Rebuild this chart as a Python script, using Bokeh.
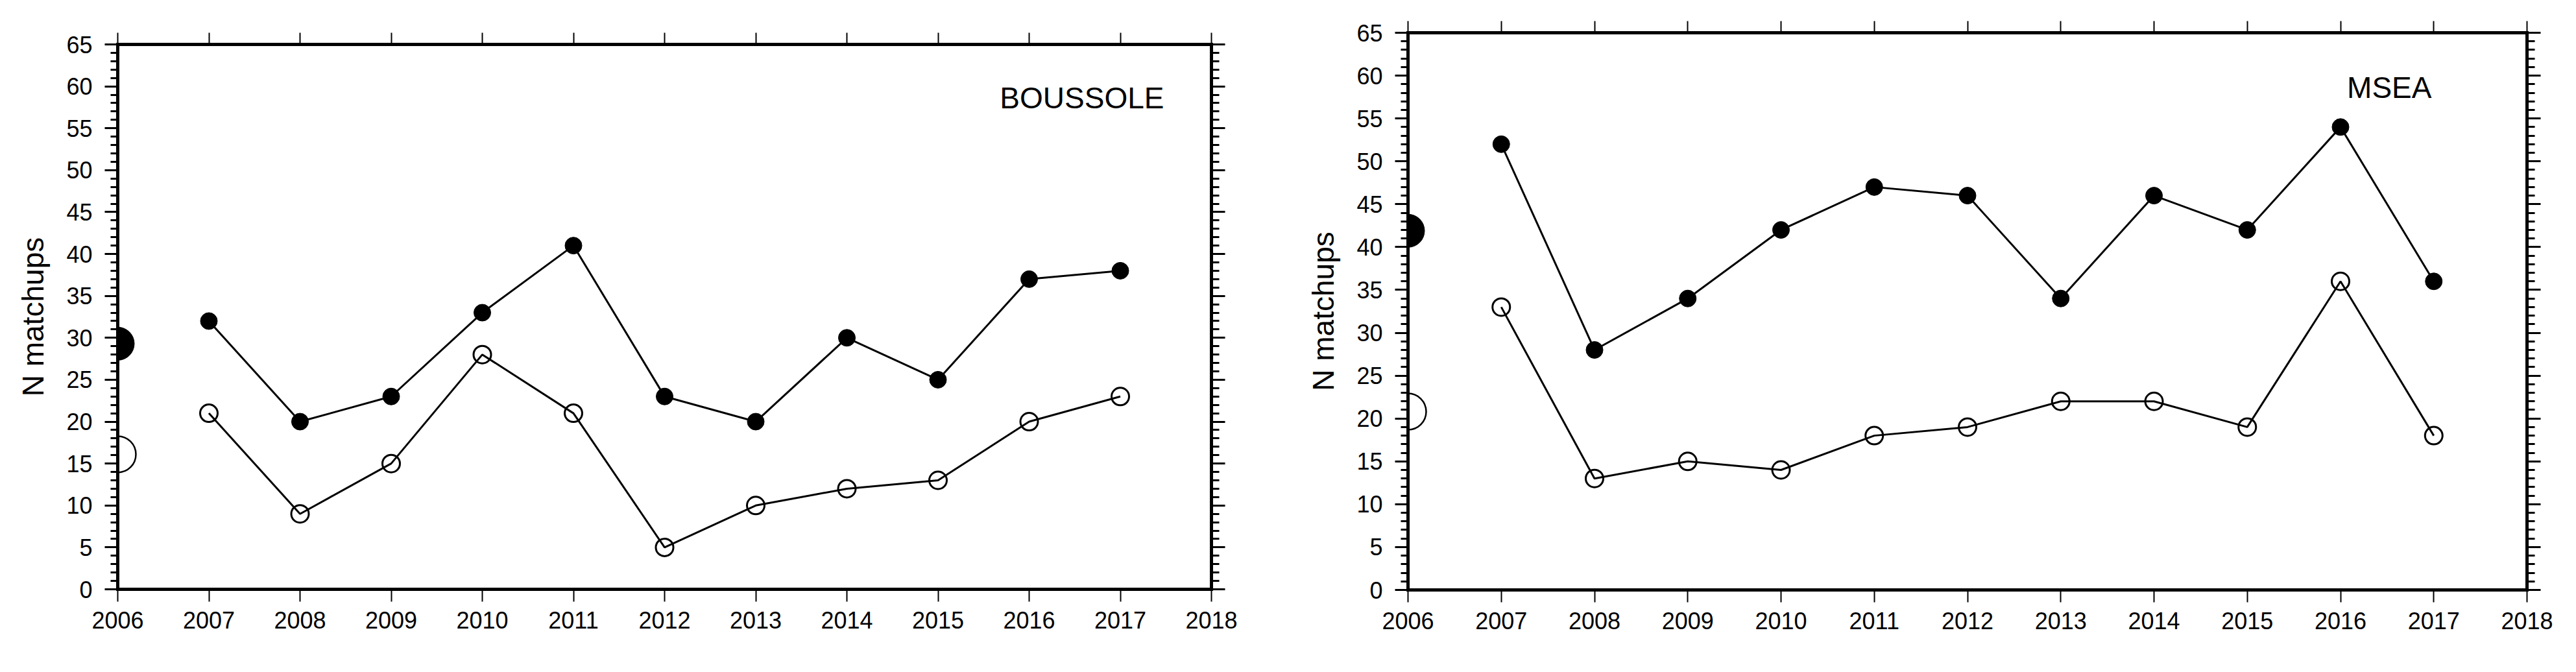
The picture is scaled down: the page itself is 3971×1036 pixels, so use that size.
from bokeh.plotting import figure
from bokeh.models import Range1d, LinearAxis, SingleIntervalTicker, Label, CustomJSTickFormatter, Spacer
from bokeh.layouts import row, column
from bokeh.embed import file_html
from bokeh.resources import INLINE

# ---- data ----
years = [2007, 2008, 2009, 2010, 2011, 2012, 2013, 2014, 2015, 2016, 2017]
boussole_filled = [32, 20, 23, 33, 41, 23, 20, 30, 25, 37, 38]
boussole_open = [21, 9, 15, 28, 21, 5, 10, 12, 13, 20, 23]
msea_filled = [52, 28, 34, 42, 47, 46, 34, 46, 42, 54, 36]
msea_open = [33, 13, 15, 14, 18, 19, 22, 22, 19, 36, 18]
mean_year = [2006]
boussole_mean_filled = [29.3]
boussole_mean_open = [16.1]
msea_mean_filled = [41.9]
msea_mean_open = [20.8]
stations = ["BOUSSOLE", "MSEA"]
y_label = "N matchups"

FONT = "Liberation Sans"


def style_axis(ax, major_out, minor_out, major_w, minor_w):
    ax.axis_line_width = 5
    ax.axis_line_color = "black"
    ax.axis_line_cap = "square"
    ax.major_tick_in = 0
    ax.minor_tick_in = 0
    ax.major_tick_out = major_out
    ax.minor_tick_out = minor_out
    ax.major_tick_line_width = major_w
    ax.minor_tick_line_width = minor_w
    ax.major_tick_line_color = "black"
    ax.minor_tick_line_color = "black"
    ax.major_label_text_font = FONT
    ax.major_label_text_font_size = "36px"
    ax.major_label_text_color = "black"


def make_panel(filled, open_, mean_f, mean_o, station, frame_w, frame_h,
               borders, label_x, label_align):
    left, right, top, bottom = borders
    p = figure(width=frame_w + left + right, height=frame_h + top + bottom,
               frame_width=frame_w, frame_height=frame_h,
               x_range=Range1d(2006, 2018), y_range=Range1d(0, 65),
               output_backend="svg", toolbar_location=None,
               min_border_left=left, min_border_right=right,
               min_border_top=top, min_border_bottom=bottom)
    p.outline_line_color = None
    p.xgrid.visible = False
    p.ygrid.visible = False
    p.background_fill_color = "white"
    p.border_fill_color = "white"

    xticker = SingleIntervalTicker(interval=1, num_minor_ticks=0)
    yticker = SingleIntervalTicker(interval=5, num_minor_ticks=5)

    bx = p.xaxis[0]
    bx.ticker = xticker
    style_axis(bx, 19, 0, 2, 0)
    bx.major_label_standoff = 15

    ly = p.yaxis[0]
    ly.ticker = yticker
    style_axis(ly, 20, 11, 3, 3)
    ly.major_label_standoff = 19
    ly.axis_label = y_label
    ly.axis_label_text_font = FONT
    ly.axis_label_text_font_size = "46px"
    ly.axis_label_text_font_style = "normal"
    ly.axis_label_text_color = "black"
    ly.axis_label_standoff = 22

    blank = CustomJSTickFormatter(code="return ''")
    ry = LinearAxis(ticker=SingleIntervalTicker(interval=5, num_minor_ticks=5),
                    formatter=blank)
    style_axis(ry, 21, 12, 3, 3)
    ry.major_label_standoff = 0
    p.add_layout(ry, "right")

    tx = LinearAxis(ticker=SingleIntervalTicker(interval=1, num_minor_ticks=0),
                    formatter=CustomJSTickFormatter(code="return ''"))
    style_axis(tx, 18, 0, 2, 0)
    tx.major_label_standoff = 0
    p.add_layout(tx, "above")

    # series
    p.line(years, filled, line_width=3, line_color="black")
    p.line(years, open_, line_width=3, line_color="black")
    p.scatter(years, filled, marker="circle", size=26, fill_color="black",
              line_color="black", line_width=1)
    p.scatter(years, open_, marker="circle", size=27, fill_color=None,
              line_color="black", line_width=3)

    # mean markers on the left frame (half clipped)
    p.scatter(mean_year, mean_f, marker="circle", size=51, fill_color="black",
              line_color="black", line_width=1)
    p.scatter(mean_year, mean_o, marker="circle", size=56, fill_color=None,
              line_color="black", line_width=2.5)

    p.add_layout(Label(x=label_x, y=58.6, text=station, text_align=label_align,
                       text_baseline="alphabetic", text_font=FONT,
                       text_font_size="46px", text_color="black"))
    return p


# the Bokeh page template has no body margin, so the frames are placed
# at their absolute window positions
p1 = make_panel(boussole_filled, boussole_open, boussole_mean_filled,
                boussole_mean_open, stations[0], 1686, 840, (181, 131, 50, 128),
                2017.48, "right")
p2 = make_panel(msea_filled, msea_open, msea_mean_filled, msea_mean_open,
                stations[1], 1725, 859, (172, 74, 50, 127), 2016.07, "left")

layout = row(column(Spacer(width=1998, height=18), p1), p2)
open("out.html", "w").write(file_html(layout, INLINE))
